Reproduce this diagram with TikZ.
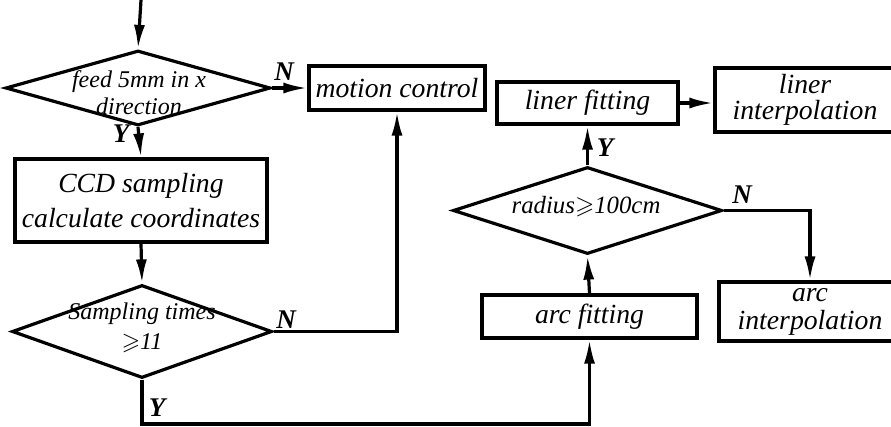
\documentclass[tikz,border=0pt]{standalone}
\usepackage{amssymb}
\usepackage{fontspec}
\setmainfont{Liberation Serif}
\usetikzlibrary{shapes.geometric,arrows.meta}
\begin{document}
\begin{tikzpicture}[x=1pt,y=-1pt,
  lw/.style={line width=3.2pt},
  box/.style={draw,lw,rectangle,inner sep=0pt,align=center,font=\fontsize{27.7}{35}\selectfont\itshape},
  dia/.style={draw,lw,diamond,inner sep=0pt},
  dtext/.style={align=center,inner sep=0pt,font=\fontsize{24}{27}\selectfont\itshape},
  lab/.style={inner sep=0pt,font=\fontsize{27}{30}\selectfont\bfseries\itshape},
  arr/.style={lw,-{Latex[length=24pt,width=11pt]}},
  conn/.style={lw}]
\useasboundingbox (0,0) rectangle (891,426);
% nodes
\coordinate (start) at (141,0);
\node[dia,minimum width=265pt,minimum height=75pt] (d1) at (138,88) {};
\node[dtext] (t1) at (139,93) {feed 5mm in x\\direction};
\node[box,minimum width=252pt,minimum height=83pt] (ccd) at (141,200.5) {CCD sampling\\calculate coordinates};
\node[dia,minimum width=260pt,minimum height=93pt] (d2) at (142,331.5) {};
\node[dtext,font=\fontsize{24}{30}\selectfont\itshape] (t2) at (142,328) {Sampling times\\$\geqslant$11};
\node[box,minimum width=176pt,minimum height=44pt] (mc) at (397,88) {motion control};
\node[box,minimum width=181pt,minimum height=42pt] (lf) at (587.5,103) {liner fitting};
\node[box,minimum width=180pt,minimum height=64pt,font=\fontsize{27.7}{26}\selectfont\itshape] (li) at (805,100) {liner\\interpolation};
\node[dia,minimum width=269pt,minimum height=87pt] (d3) at (587.5,210.5) {};
\node[dtext,font=\fontsize{24.8}{27}\selectfont\itshape] (t3) at (586,207) {radius$\geqslant$100cm};
\node[box,minimum width=215pt,minimum height=43pt] (af) at (589.5,316.5) {arc fitting};
\node[box,minimum width=182pt,minimum height=59pt,font=\fontsize{27.7}{28}\selectfont\itshape] (ai) at (810,311.5) {arc\\interpolation};
\coordinate (yc) at (142,424);
% labels
\node[lab] (n1) at (284,72) {N};
\node[lab] (y1) at (121,134) {Y};
\node[lab] (n2) at (286,320) {N};
\node[lab] (y2) at (157,408) {Y};
\node[lab] (y3) at (605,148) {Y};
\node[lab] (n3) at (742,195) {N};
% connectors
\draw[arr] (start) -- (d1.north);
\draw[arr] (d1.east) -- (mc.west);
\draw[arr] (d1.south) -- (ccd.north);
\draw[arr] (ccd.south) -- (d2.north);
\draw[arr] (d2.east) -| (mc.south);
\draw[arr] (d2.south) -- (yc) -| (af.south);
\draw[arr] (af.north) -- (d3.south);
\draw[arr] (d3.north) -- (lf.south);
\draw[arr] (lf.east) -- (li.west |- lf.east);
\draw[arr] (d3.east) -| (ai.north);
\end{tikzpicture}
\end{document}
